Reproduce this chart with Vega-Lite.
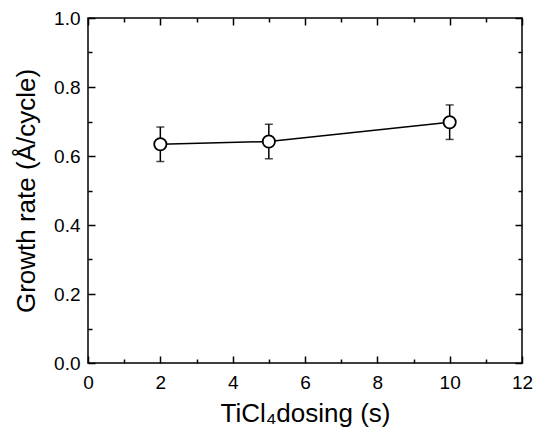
{
  "$schema": "https://vega.github.io/schema/vega-lite/v6.json",
  "width": 434,
  "height": 345,
  "autosize": "none",
  "padding": {"left": 88, "top": 18, "right": 21, "bottom": 74},
  "background": "white",
  "config": {
    "view": {"stroke": "black", "strokeWidth": 1.5},
    "font": "Liberation Sans",
    "axis": {
      "domain": false,
      "grid": false,
      "labelFont": "Liberation Sans",
      "titleFont": "Liberation Sans",
      "labelColor": "black",
      "titleColor": "black",
      "tickColor": "black",
      "tickWidth": 1.5,
      "titleFontWeight": "normal",
      "labelOverlap": false,
      "labelFlush": false
    }
  },
  "data": {
    "values": [
      {"t": 2, "rate": 0.634, "lo": 0.584, "hi": 0.684},
      {"t": 5, "rate": 0.642, "lo": 0.592, "hi": 0.692},
      {"t": 10, "rate": 0.698, "lo": 0.648, "hi": 0.748}
    ]
  },
  "layer": [
    {
      "mark": {"type": "errorbar", "color": "black", "ticks": {"size": 8, "thickness": 1.5}, "rule": {"strokeWidth": 1.5}},
      "encoding": {
        "x": {"field": "t", "type": "quantitative", "scale": {"domain": [0, 12], "nice": false, "zero": false}, "axis": null},
        "y": {"field": "lo", "type": "quantitative", "scale": {"domain": [0, 1], "nice": false, "zero": false}, "axis": null},
        "y2": {"field": "hi"}
      }
    },
    {
      "mark": {"type": "line", "color": "black", "strokeWidth": 1.5},
      "encoding": {
        "x": {"field": "t", "type": "quantitative", "axis": null},
        "y": {"field": "rate", "type": "quantitative", "axis": null}
      }
    },
    {
      "mark": {"type": "point", "shape": "circle", "size": 150, "filled": true, "fill": "white", "stroke": "black", "strokeWidth": 1.8, "opacity": 1},
      "encoding": {
        "x": {"field": "t", "type": "quantitative", "axis": null},
        "y": {"field": "rate", "type": "quantitative", "axis": null}
      }
    },
    {
      "mark": {"type": "point", "opacity": 0},
      "encoding": {
        "x": {"field": "t", "type": "quantitative", "axis": {"orient": "bottom", "values": [0, 2, 4, 6, 8, 10, 12], "ticks": false, "labelFontSize": 19, "labelPadding": 10.5, "title": "TiCl₄dosing (s)", "titleFontSize": 26, "titlePadding": 8}},
        "y": {"field": "rate", "type": "quantitative", "axis": {"orient": "left", "values": [0, 0.2, 0.4, 0.6, 0.8, 1.0], "format": ".1f", "ticks": false, "labelFontSize": 19, "labelPadding": 8, "title": "Growth rate (Å/cycle)", "titleFontSize": 26, "titlePadding": 14}}
      }
    },
    {
      "mark": {"type": "point", "opacity": 0},
      "encoding": {
        "x": {"field": "t", "type": "quantitative", "axis": {"orient": "bottom", "values": [0, 2, 4, 6, 8, 10, 12], "labels": false, "tickSize": -7, "title": null}},
        "y": {"field": "rate", "type": "quantitative", "axis": {"orient": "left", "values": [0, 0.2, 0.4, 0.6, 0.8, 1.0], "labels": false, "tickSize": -7, "title": null}}
      }
    },
    {
      "mark": {"type": "point", "opacity": 0},
      "encoding": {
        "x": {"field": "t", "type": "quantitative", "axis": {"orient": "bottom", "values": [1, 3, 5, 7, 9, 11], "labels": false, "tickSize": -4, "title": null}},
        "y": {"field": "rate", "type": "quantitative", "axis": {"orient": "left", "values": [0.1, 0.3, 0.5, 0.7, 0.9], "labels": false, "tickSize": -4, "title": null}}
      }
    },
    {
      "mark": {"type": "point", "opacity": 0},
      "encoding": {
        "x": {"field": "t", "type": "quantitative", "axis": {"orient": "top", "values": [0, 2, 4, 6, 8, 10, 12], "labels": false, "tickSize": -7, "title": null}},
        "y": {"field": "rate", "type": "quantitative", "axis": {"orient": "right", "values": [0, 0.2, 0.4, 0.6, 0.8, 1.0], "labels": false, "tickSize": -7, "title": null}}
      }
    },
    {
      "mark": {"type": "point", "opacity": 0},
      "encoding": {
        "x": {"field": "t", "type": "quantitative", "axis": {"orient": "top", "values": [1, 3, 5, 7, 9, 11], "labels": false, "tickSize": -4, "title": null}},
        "y": {"field": "rate", "type": "quantitative", "axis": {"orient": "right", "values": [0.1, 0.3, 0.5, 0.7, 0.9], "labels": false, "tickSize": -4, "title": null}}
      }
    }
  ],
  "resolve": {"axis": {"x": "independent", "y": "independent"}}
}
